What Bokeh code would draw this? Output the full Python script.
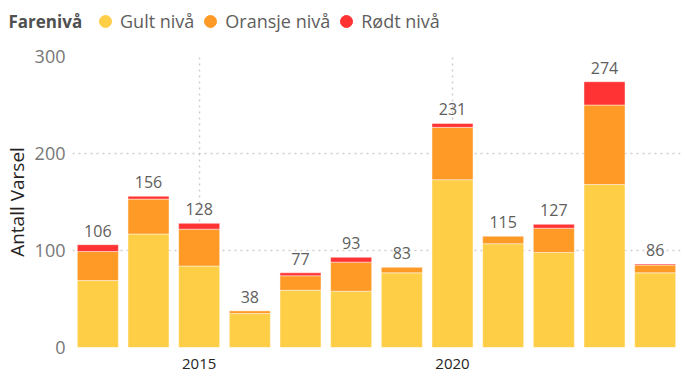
from bokeh.plotting import figure
from bokeh.layouts import column
from bokeh.models import ColumnDataSource, Range1d, FixedTicker, Legend, LegendItem
from bokeh.embed import file_html
from bokeh.resources import INLINE
from bokeh.core.properties import value

years = [2013, 2014, 2015, 2016, 2017, 2018, 2019, 2020, 2021, 2022, 2023, 2024]
gult = [69, 117, 84, 35, 59, 58, 77, 173, 107, 98, 168, 77]
oransje = [30, 36, 38, 3, 15, 30, 6, 54, 8, 25, 82, 8]
rodt = [7, 3, 6, 0, 3, 5, 0, 4, 0, 4, 24, 1]
totals = [g + o + r for g, o, r in zip(gult, oransje, rodt)]
labels = [str(t) for t in totals]
series = ["Gult nivå", "Oransje nivå", "Rødt nivå"]
colors = ["#FFCE47", "#FF9A26", "#FF3333"]
y_ticks = [0, 100, 200, 300]
x_ticks = [2015, 2020]
legend_title = "Farenivå"

FONT = "Open Sans"

src = ColumnDataSource(dict(year=years, gult=gult, oransje=oransje, rodt=rodt,
                            total=totals, label=labels))

# ---------- legend strip (pixel-space figure) ----------
LH = 38
lf = figure(width=683, height=LH, output_backend="svg", toolbar_location=None,
            x_range=Range1d(0, 683), y_range=Range1d(LH, 0),
            x_axis_location=None, y_axis_location=None,
            min_border=0, min_border_left=0, min_border_right=0,
            min_border_top=0, min_border_bottom=0)
lf.frame_align = False
lf.outline_line_color = None
lf.xgrid.visible = False
lf.ygrid.visible = False
lf.text(x=[8], y=[21], text=[legend_title], text_font=value(FONT),
        text_font_size="17px", text_font_style="bold", text_color="#505050",
        text_baseline="middle", text_align="left")
dummy = ColumnDataSource(dict(x=[-1000], y=[-1000]))
items = []
for name, c in zip(series, colors):
    r = lf.scatter(x="x", y="y", source=dummy, marker="circle", size=12,
                   fill_color=c, line_color=c)
    items.append(LegendItem(label=name, renderers=[r]))
legend = Legend(items=items, orientation="horizontal", location=(90, LH - 36),
                glyph_width=30, glyph_height=30, label_standoff=-8, spacing=1,
                padding=0, margin=0, border_line_alpha=0, background_fill_alpha=0,
                label_text_font=FONT, label_text_font_size="18px",
                label_text_color="#605E5C", label_text_baseline="middle")
lf.add_layout(legend)

# ---------- main chart ----------
p = figure(width=683, height=377 - LH, output_backend="svg", toolbar_location=None,
           x_range=Range1d(2012.5, 2024.5), y_range=Range1d(0, 300),
           min_border_left=72, min_border_right=3, min_border_top=56 - LH,
           min_border_bottom=30)
p.frame_align = False
p.outline_line_color = None
p.background_fill_color = "white"
p.border_fill_color = "white"

p.vbar_stack(["gult", "oransje", "rodt"], x="year", width=0.81, source=src,
             color=colors, line_color="white", line_alpha=0.45, line_width=1)

p.text(x="year", y="total", text="label", source=src, text_align="center",
       text_baseline="bottom", y_offset=-8, text_font=value(FONT),
       text_font_size="16px", text_color="#605E5C")

for g in (p.xgrid, p.ygrid):
    g.grid_line_color = "#CFCDCB"
    g.grid_line_dash = "2 4"
    g.grid_line_width = 1.5
p.ygrid.ticker = FixedTicker(ticks=y_ticks)
p.xgrid.ticker = FixedTicker(ticks=x_ticks)

p.yaxis.ticker = FixedTicker(ticks=y_ticks)
p.yaxis.axis_line_color = None
p.yaxis.major_tick_line_color = None
p.yaxis.minor_tick_line_color = None
p.yaxis.major_tick_out = 0
p.yaxis.major_tick_in = 0
p.yaxis.major_label_text_font = FONT
p.yaxis.major_label_text_font_size = "18px"
p.yaxis.major_label_text_color = "#777777"
p.yaxis.major_label_standoff = 7
p.yaxis.axis_label = "Antall Varsel"
p.yaxis.axis_label_text_font = FONT
p.yaxis.axis_label_text_font_size = "19px"
p.yaxis.axis_label_text_font_style = "normal"
p.yaxis.axis_label_text_color = "#252423"
p.yaxis.axis_label_standoff = 2

p.xaxis.ticker = FixedTicker(ticks=x_ticks)
p.xaxis.axis_line_color = None
p.xaxis.major_tick_line_color = None
p.xaxis.minor_tick_line_color = None
p.xaxis.major_tick_out = 0
p.xaxis.major_tick_in = 0
p.xaxis.major_label_text_font = FONT
p.xaxis.major_label_text_font_size = "15px"
p.xaxis.major_label_text_color = "#252423"
p.xaxis.major_label_standoff = 11

layout = column(lf, p, spacing=0)
open("out.html", "w").write(file_html(layout, INLINE))
